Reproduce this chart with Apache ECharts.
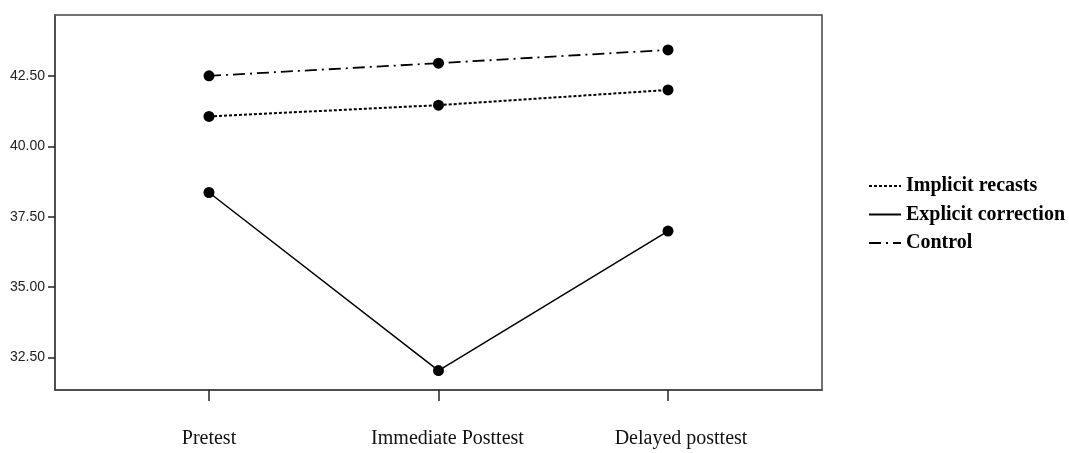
<!DOCTYPE html>
<html>
<head>
<meta charset="utf-8">
<script src="https://cdn.jsdelivr.net/npm/echarts@6/dist/echarts.min.js"></script>
<style>html,body{margin:0;padding:0;background:#fff;}#c{width:1069px;height:453px;}</style>
</head>
<body>
<div id="c"></div>
<script>
const categories = ['Pretest', 'Immediate Posttest', 'Delayed posttest'];
const implicitRecasts = [41.06, 41.46, 42.00];
const explicitCorrection = [38.36, 32.04, 36.99];
const control = [42.50, 42.95, 43.42];
const yTicks = [32.5, 35.0, 37.5, 40.0, 42.5];

const toPts = arr => arr.map((v, i) => [i, v]);
const chart = echarts.init(document.getElementById('c'));
const common = {
  type: 'line',
  symbol: 'circle',
  symbolSize: 11,
  itemStyle: { color: '#000' },
  z: 3
};
const labelFont = { fontFamily: 'Liberation Serif', fontSize: 20, color: '#111' };
chart.setOption({
  animation: false,
  backgroundColor: '#fff',
  grid: {
    left: 55, top: 15, right: 247, bottom: 63,
    show: true, borderColor: '#444', borderWidth: 1.5
  },
  xAxis: {
    type: 'value',
    min: -0.671, max: 2.671,
    splitLine: { show: false },
    axisLine: { show: true, onZero: false, lineStyle: { color: '#444', width: 1.5 } },
    axisTick: { show: true, length: 11, customValues: [0, 1, 2], lineStyle: { color: '#222', width: 1.5 } },
    axisLabel: {
      customValues: [0, 1, 2],
      formatter: v => '{c' + Math.round(v) + '|' + categories[Math.round(v)] + '}',
      margin: 39,
      rich: {
        c0: Object.assign({ padding: [0, 0, 0, 0] }, labelFont),
        c1: Object.assign({ padding: [0, 0, 0, 18] }, labelFont),
        c2: Object.assign({ padding: [0, 0, 0, 26] }, labelFont)
      }
    }
  },
  yAxis: {
    type: 'value',
    min: 31.35, max: 44.66,
    splitLine: { show: false },
    axisLine: { show: true, onZero: false, lineStyle: { color: '#444', width: 1.5 } },
    axisTick: { show: true, length: 7, customValues: yTicks, lineStyle: { color: '#222', width: 1.5 } },
    axisLabel: {
      customValues: yTicks,
      formatter: v => v.toFixed(2),
      margin: 10,
      color: '#222',
      fontFamily: 'Liberation Sans',
      fontSize: 14
    }
  },
  legend: {
    orient: 'vertical',
    left: 868, top: 176,
    padding: 0,
    itemWidth: 32, itemHeight: 20, itemGap: 8.5,
    itemStyle: { opacity: 0 },
    textStyle: { fontFamily: 'Liberation Serif', fontWeight: 'bold', fontSize: 20, color: '#000' },
    data: ['Implicit recasts', 'Explicit correction', 'Control']
  },
  series: [
    Object.assign({}, common, {
      name: 'Implicit recasts',
      data: toPts(implicitRecasts),
      lineStyle: { color: '#000', width: 2, type: [3, 2] }
    }),
    Object.assign({}, common, {
      name: 'Explicit correction',
      data: toPts(explicitCorrection),
      lineStyle: { color: '#000', width: 1.5, type: 'solid' }
    }),
    Object.assign({}, common, {
      name: 'Control',
      data: toPts(control),
      lineStyle: { color: '#000', width: 1.8, type: [12, 5, 2, 5] }
    })
  ]
});
</script>
</body>
</html>
